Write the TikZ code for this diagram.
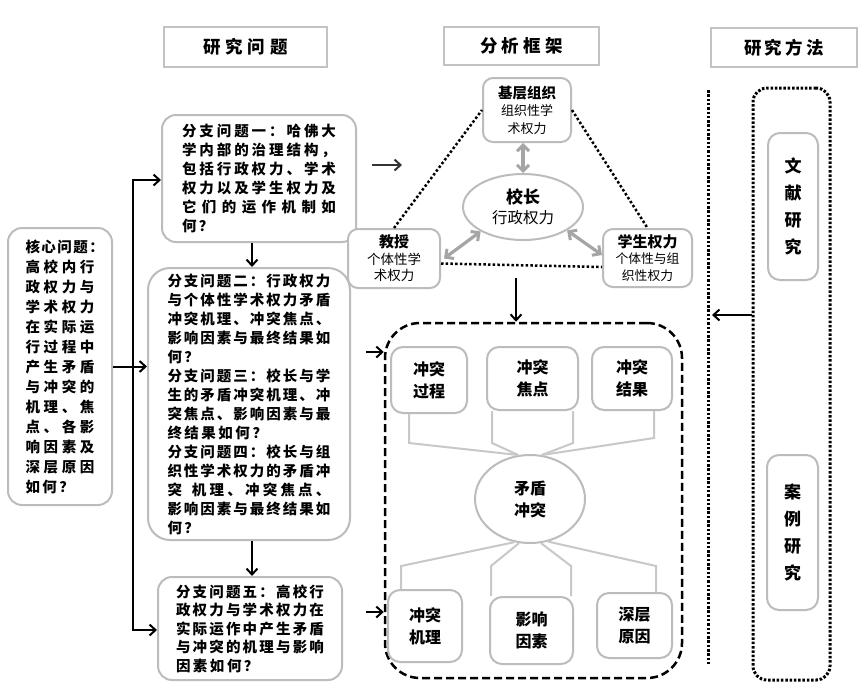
\documentclass[tikz,border=0pt]{standalone}
\usepackage{fontspec}
\newfontfamily\cjk{Noto Sans CJK SC}
\usetikzlibrary{arrows.meta,shapes.geometric,calc}
\makeatletter
\newcommand\jx[1]{\@tfor\@ch:=#1\do{\@ch\hskip1.5pt plus 1fil\relax}\unskip}
\newcommand\jn[1]{\@tfor\@ch:=#1\do{\@ch\hskip2.5pt\relax}\unskip}
\makeatother
\newcommand\jl[2]{\makebox[#1][s]{\jx{#2}}}
\definecolor{boxgray}{RGB}{188,188,188}
\definecolor{hdrgray}{RGB}{195,195,195}
\definecolor{conngray}{RGB}{200,200,200}
\definecolor{arrgray}{RGB}{165,165,165}
\begin{document}
\begin{tikzpicture}[x=1pt,y=-1pt,
  box/.style={draw=boxgray, line width=2pt, rounded corners=14pt, fill=white, inner sep=2pt},
  hdr/.style={draw=hdrgray, line width=2.4pt, fill=white, inner sep=0pt, font=\cjk\bfseries\fontsize{17.5}{20}\selectfont},
  arr/.style={line width=2pt, -{Straight Barb[length=6pt,width=11pt,line width=2pt]}},
  garr/.style={draw=arrgray, line width=3.2pt, {Straight Barb[length=6pt,width=12pt,line width=3pt]}-{Straight Barb[length=6pt,width=12pt,line width=3pt]}},
  dots/.style={line width=2.5pt, dash pattern=on 2.5pt off 2.2pt},
  conn/.style={draw=conngray, line width=2pt},
  body/.style={font=\cjk\bfseries\fontsize{14.5}{19}\selectfont, align=left},
  fw/.style={box, rounded corners=10pt, align=center, font=\cjk\fontsize{13}{17.5}\selectfont},
  cf/.style={box, rounded corners=12pt, align=center, font=\cjk\bfseries\fontsize{16}{22}\selectfont},
  vt/.style={box, rounded corners=12pt, align=center, font=\cjk\bfseries\fontsize{17}{27}\selectfont}]
\fill[white] (0,0) rectangle (866,689);
\useasboundingbox (0,0) rectangle (866,689);

% headers
\node[hdr, minimum width=163pt, minimum height=40pt] (h1) at (245.5,47) {\jl{84pt}{研究问题}};
\node[hdr, minimum width=155pt, minimum height=38pt] (h2) at (521.5,46) {\jl{83pt}{分析框架}};
\node[hdr, minimum width=146pt, minimum height=39pt] (h3) at (784,47.5) {\jl{80pt}{研究方法}};

% core question
\node[box, rounded corners=14pt, minimum width=104pt, minimum height=277pt, body, font=\cjk\bfseries\fontsize{14.5}{20}\selectfont] (core) at (60,366.5) {%
\jl{69pt}{核心问题：}\\
\jl{69pt}{高校内行}\\
\jl{69pt}{政权力与}\\
\jl{69pt}{学术权力}\\
\jl{69pt}{在实际运}\\
\jl{69pt}{行过程中}\\
\jl{69pt}{产生矛盾}\\
\jl{69pt}{与冲突的}\\
\jl{69pt}{机理、焦}\\
\jl{69pt}{点、各影}\\
\jl{69pt}{响因素及}\\
\jl{69pt}{深层原因}\\
\jn{如何？}};

% branch questions
\node[box, minimum width=194pt, minimum height=127pt, body] (b1) at (259,178.5) {%
\jl{154pt}{分支问题一：哈佛大}\\
\jl{154pt}{学内部的治理结构，}\\
\jl{154pt}{包括行政权力、学术}\\
\jl{154pt}{权力以及学生权力及}\\
\jl{154pt}{它们的运作机制如}\\
\jn{何？}};

\node[box, rounded corners=22pt, minimum width=202pt, minimum height=272pt, body] (b2) at (249,404) {%
\jl{163pt}{分支问题二：行政权力}\\
\jl{163pt}{与个体性学术权力矛盾}\\
\jl{163pt}{冲突机理、冲突焦点、}\\
\jl{163pt}{影响因素与最终结果如}\\
\jn{何？}\\
\jl{163pt}{分支问题三：校长与学}\\
\jl{163pt}{生的矛盾冲突机理、冲}\\
\jl{163pt}{突焦点、影响因素与最}\\
\jn{终结果如何？}\\
\jl{163pt}{分支问题四：校长与组}\\
\jl{163pt}{织性学术权力的矛盾冲}\\
\jl{163pt}{突~机理、冲突焦点、}\\
\jl{163pt}{影响因素与最终结果如}\\
\jn{何？}};

\node[box, minimum width=184pt, minimum height=103pt, body, font=\cjk\bfseries\fontsize{14.5}{18.5}\selectfont] (b5) at (250,628.5) {%
\jl{148pt}{分支问题五：高校行}\\
\jl{148pt}{政权力与学术权力在}\\
\jl{148pt}{实际运作中产生矛盾}\\
\jl{148pt}{与冲突的机理与影响}\\
\jn{因素如何？}};

% left connectors
\coordinate (vt) at (133,180);
\coordinate (vb) at (133,630);
\coordinate (xa) at (252,0);
\draw[arr] (vb) -- (vt) -- (b1.west |- vt);
\draw[arr, line cap=rect] (vb) -- (b5.west |- vb);
\draw[arr] (core.east) -- (b2.west |- core.east);
\draw[arr] (b1.south -| xa) -- (b2.north -| xa);
\draw[arr] (b2.south -| xa) -- (b5.north -| xa);

% analysis framework
\node[fw, minimum width=88pt, minimum height=64pt] (jc) at (527,110) {{\bfseries\fontsize{14.5}{17.5}\selectfont 基层组织}\\组织性学\\术权力};
\node[draw=boxgray, line width=2pt, fill=white, ellipse, minimum width=120pt, minimum height=66pt, align=center, inner sep=0pt, font=\cjk\fontsize{15.5}{20}\selectfont] (xz) at (523,207) {{\bfseries\fontsize{17}{20}\selectfont 校长}\\行政权力};
\node[fw, minimum width=92pt, minimum height=59pt, font=\cjk\fontsize{13.5}{16.5}\selectfont] (js) at (394,258.5) {{\bfseries\fontsize{15}{16.5}\selectfont 教授}\\个体性学\\术权力};
\node[fw, minimum width=89pt, minimum height=58pt, font=\cjk\fontsize{12.8}{16.5}\selectfont] (xs) at (647.5,258) {{\bfseries\fontsize{15}{16.5}\selectfont 学生权力}\\个体性与组\\织性权力};

\draw[dots] (js.north) -- (jc.west);
\draw[dots] (jc.east) -- (xs.north);
\draw[dots] ([yshift=-5pt]js.east) -- ([yshift=-9pt]xs.west);
\draw[garr] (xz.north |- jc.south) -- (xz.north);
\draw[garr] (xz.-150) -- ([xshift=3pt]js.east);
\draw[garr] (xz.-28) -- ([yshift=3pt]xs.west);

\coordinate (fa1) at (372,165);
\coordinate (fa2) at (402,165);
\draw[arr, draw=black!80, line width=2.5pt] (fa1) -- (fa2);

% conflict block
\node[draw, line width=2.5pt, dash pattern=on 8pt off 4pt, rounded corners=35pt, minimum width=297pt, minimum height=355pt, inner sep=0pt] (cbox) at (533.5,500.5) {};
\coordinate (fd) at (516,278);
\draw[arr] (fd) -- (fd |- cbox.north);
\coordinate (ca1) at (366,352);
\coordinate (ca2) at (366,612);
\draw[arr] (ca1) -- (ca1 -| cbox.west);
\draw[arr] (ca2) -- (ca2 -| cbox.west);

\node[cf, minimum width=76pt, minimum height=66pt] (cp) at (429,380) {冲突\\过程};
\node[cf, minimum width=91pt, minimum height=63pt] (cfc) at (532.5,378.5) {冲突\\焦点};
\node[cf, minimum width=80pt, minimum height=63pt] (cr) at (632,378.5) {冲突\\结果};
\node[draw=boxgray, line width=2pt, fill=white, ellipse, minimum width=110pt, minimum height=88pt, align=center, inner sep=0pt, font=\cjk\bfseries\fontsize{16}{22}\selectfont] (mc) at (530,499) {矛盾\\冲突};
\node[cf, minimum width=74pt, minimum height=72pt] (bm) at (425,626) {冲突\\机理};
\node[cf, minimum width=83pt, minimum height=67pt] (by) at (531.5,630.5) {影响\\因素};
\node[cf, minimum width=75pt, minimum height=65pt] (bs) at (634.5,625.5) {深层\\原因};

\draw[conn] ([xshift=19pt]cp.south west) -- ++(0,29) -- (mc.105);
\draw[conn] ([xshift=6pt]cfc.south west) -- ++(0,32) -- (mc.105);
\draw[conn] ([xshift=-6pt]cfc.south east) -- ++(0,32) -- (mc.75);
\draw[conn] ([xshift=-19pt]cr.south east) -- ++(0,27) -- (mc.75);
\draw[conn] (mc.-110) -- ([xshift=14pt,yshift=23pt]bm.north west) -- ([xshift=14pt]bm.north west);
\draw[conn] (mc.-104) -- ([xshift=2pt,yshift=30pt]by.north west) -- ([xshift=2pt]by.north west);
\draw[conn] (mc.-76) -- ([xshift=-3pt,yshift=30pt]by.north east) -- ([xshift=-3pt]by.north east);
\draw[conn] (mc.-67) -- ([xshift=-17pt,yshift=26pt]bs.north east) -- ([xshift=-17pt]bs.north east);

% research methods
\coordinate (lt) at (708,90);
\coordinate (lb) at (708,665);
\draw[line width=3pt, dash pattern=on 2.5pt off 1.8pt] (lt) -- (lb);
\node[draw, line width=3pt, dash pattern=on 2.5pt off 1.8pt, rounded corners=14pt, minimum width=77pt, minimum height=592pt, inner sep=0pt] (mbox) at (791.5,384) {};
\node[vt, minimum width=50pt, minimum height=147pt] (wx) at (793,206.5) {文\\献\\研\\究};
\node[vt, minimum width=51pt, minimum height=155pt] (al) at (792.5,532.5) {案\\例\\研\\究};
\coordinate (lm) at (712,315);
\draw[arr] (mbox.west |- lm) -- (lm);
\end{tikzpicture}
\end{document}
